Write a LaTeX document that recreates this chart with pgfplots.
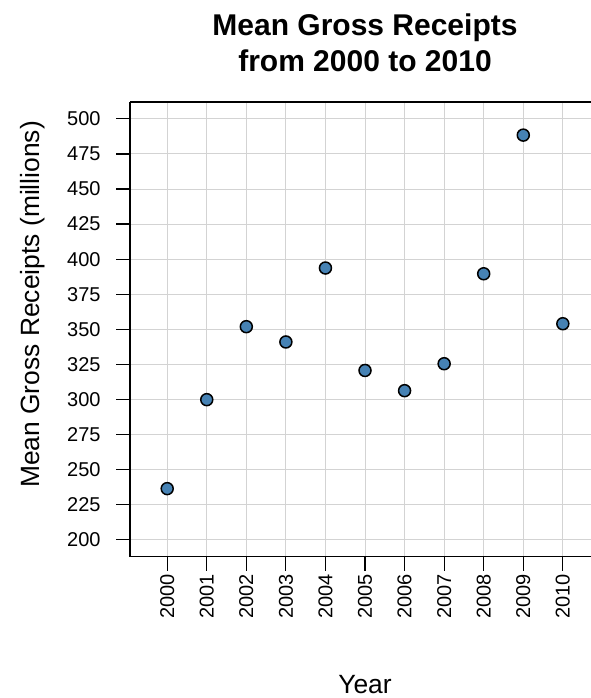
\documentclass[border=0pt]{standalone}
\usepackage{fontspec}
\setmainfont{Liberation Sans}
\usepackage{pgfplots}
\pgfplotsset{compat=1.18}
\definecolor{steel}{HTML}{4682B4}
\definecolor{gridc}{HTML}{D3D3D3}
\begin{document}
\begin{tikzpicture}
\begin{axis}[
 at={(130pt,141.3pt)}, anchor=south west,
 scale only axis, width=461pt, height=454.7pt,
 xmin=1999.06, xmax=2010.712, ymin=188, ymax=512,
 axis x line=box, axis y line=left,
 axis line style={black, line width=1.3pt, -},
 xtick={2000,2001,2002,2003,2004,2005,2006,2007,2008,2009,2010},
 ytick={200,225,250,275,300,325,350,375,400,425,450,475,500},
 /pgf/number format/1000 sep={},
 /pgf/number format/assume math mode=true,
 tick align=outside, xtick pos=bottom, ytick pos=left,
 major tick length=14pt,
 tick style={black, line width=1.2pt},
 grid=major, major grid style={gridc, line width=1pt},
 ticklabel style={font=\fontsize{20}{22}\selectfont},
 yticklabel style={xshift=-12pt},
 xticklabel style={rotate=90, anchor=east},
 clip=false,
]
\addplot[only marks, mark=*, mark size=6pt, mark options={fill=steel, draw=black, line width=1.5pt}]
coordinates {
(2000,236.5) (2001,299.9) (2002,351.9) (2003,341.0) (2004,393.7) (2005,320.7)
(2006,306.3) (2007,325.5) (2008,389.6) (2009,488.4) (2010,354.0)
};
\end{axis}
\node[font=\bfseries\fontsize{30}{36}\selectfont, anchor=base] at (365pt,662pt) {Mean Gross Receipts};
\node[font=\bfseries\fontsize{30}{36}\selectfont, anchor=base] at (365pt,626.3pt) {from 2000 to 2010};
\node[font=\fontsize{26.4}{30}\selectfont, rotate=90, anchor=base] at (39pt,393.5pt) {Mean Gross Receipts (millions)};
\node[font=\fontsize{26.4}{30}\selectfont, anchor=base] at (365pt,5pt) {Year};
\pgfresetboundingbox
\path[use as bounding box] (0pt,0pt) rectangle (591pt,698pt);
\end{tikzpicture}
\end{document}
